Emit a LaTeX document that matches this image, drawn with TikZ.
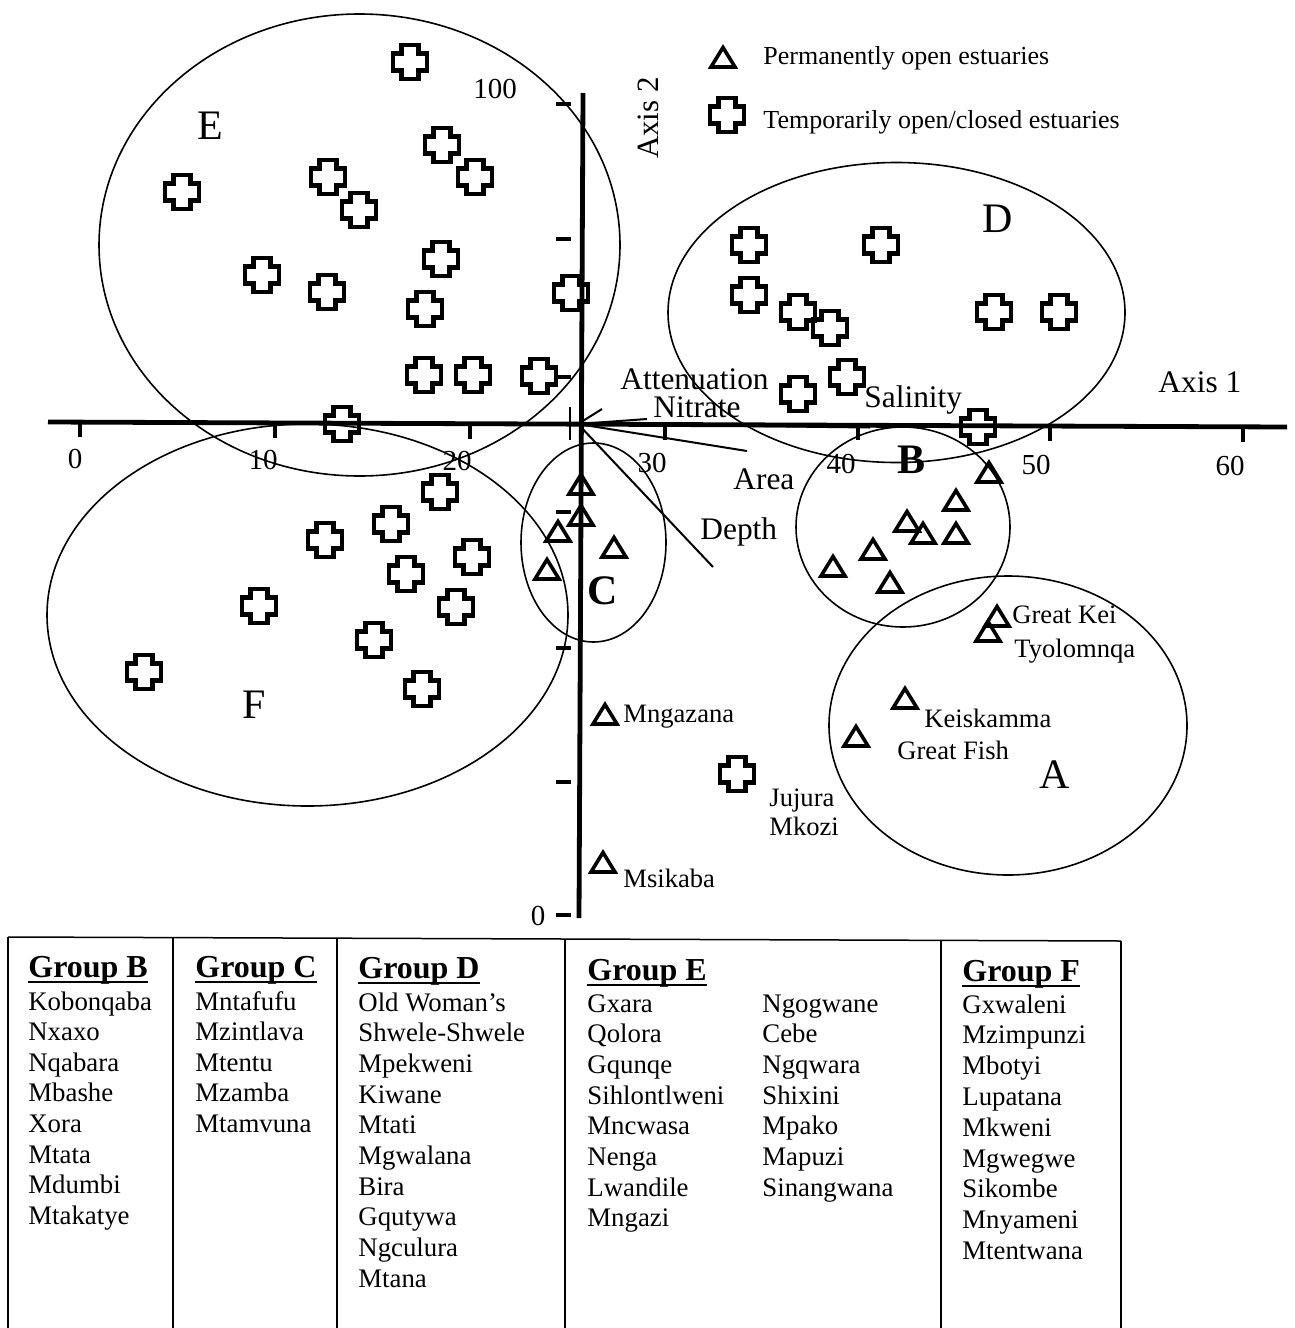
\documentclass[tikz,border=0pt]{standalone}
\usepackage{fontspec}
\setmainfont{Liberation Serif}
\begin{document}
\begin{tikzpicture}[x=0.5pt,y=-0.5pt]
\tikzset{
 axisline/.style={line width=2.4pt},
 tickmark/.style={line width=1.6pt},
 ytick/.style={line width=2pt},
 grp/.style={line width=0.8pt},
 vec/.style={line width=1pt},
 lbl/.style={inner sep=0pt, font=\fontsize{13.3}{15}\selectfont, anchor=base west},
 veclbl/.style={inner sep=0pt, font=\fontsize{15.7}{18}\selectfont, anchor=base west},
 num/.style={inner sep=0pt, font=\fontsize{14.5}{17}\selectfont, anchor=base},
 big/.style={inner sep=0pt, font=\fontsize{21}{24}\selectfont},
 bigb/.style={inner sep=0pt, font=\fontsize{21}{24}\selectfont\bfseries},
 cell/.style={inner sep=0pt, font=\fontsize{13.4}{16}\selectfont, anchor=base west},
 hdr/.style={inner sep=0pt, font=\fontsize{16}{19}\selectfont\bfseries, anchor=base west},
 leg/.style={inner sep=0pt, font=\fontsize{13}{15}\selectfont, anchor=base west},
 tbl/.style={line width=0.75pt},
 plusmark/.pic={\draw[line width=2.1pt,line join=miter]
   (-8.5,-17)--(8.5,-17)--(8.5,-8.5)--(17,-8.5)--(17,8.5)--(8.5,8.5)--(8.5,17)
   --(-8.5,17)--(-8.5,8.5)--(-17,8.5)--(-17,-8.5)--(-8.5,-8.5)--cycle;},
 trimark/.pic={\draw[line width=1.8pt,line join=miter] (-12,9)--(12,9)--(0,-10.5)--cycle;},
}
\useasboundingbox (0,0) rectangle (1295,1328);

% ---- axes ----
\coordinate (xL) at (48,422);
\coordinate (xR) at (1287,427);
\coordinate (yT) at (583,93);
\coordinate (yB) at (579,918);
\draw[axisline] (xL) -- (xR);
\draw[axisline] (yT) -- (yB);

% x ticks
\foreach \xx/\yy [count=\i] in {80/422.1,275/422.9,470/423.7,665/424.5,858/425.3,1050/426,1243/426.8}{
  \coordinate (xt\i) at (\xx,\yy);
  \coordinate (xtb\i) at (\xx,\yy+15);
  \draw[tickmark] (xt\i) -- (xtb\i);
}
\coordinate (ot1) at (570,407);
\coordinate (ot2) at (570,440);
\draw[line width=1pt] (ot1) -- (ot2);

% y ticks
\foreach \yy [count=\i] in {104,239,377,512,648,782,915}{
  \coordinate (yta\i) at (556,\yy);
  \coordinate (ytb\i) at (571,\yy);
  \draw[ytick] (yta\i) -- (ytb\i);
}

% axis numbers
\node[num] (n0) at (75,468) {0};
\node[num] (n10) at (263,469) {10};
\node[num] (n20) at (457,470) {20};
\node[num] (n30) at (652,472) {30};
\node[num] (n40) at (841,473) {40};
\node[num] (n50) at (1036,474) {50};
\node[num] (n60) at (1230,475) {60};
\node[num] (n100) at (495,98) {100};
\node[num] (ny0) at (538,925) {0};
\node[inner sep=0pt, font=\fontsize{15.5}{18}\selectfont, rotate=90] (ax2) at (648,118) {Axis 2};
\node[veclbl] (ax1) at (1158,392) {Axis 1};

% ---- vectors ----
\coordinate (O) at (578,424);
\coordinate (vAtt) at (602,409);
\coordinate (vNit) at (647,419);
\coordinate (vSal) at (870,427.5);
\coordinate (vArea) at (747,451);
\coordinate (vDep) at (713,567);
\draw[vec] (O) -- (vAtt);
\draw[vec] (O) -- (vNit);
\draw[vec] (O) -- (vSal);
\draw[vec] (O) -- (vArea);
\draw[vec] (O) -- (vDep);
\node[veclbl] (lAtt) at (620,389) {Attenuation};
\node[veclbl] (lNit) at (653,417) {Nitrate};
\node[veclbl] (lSal) at (864,407) {Salinity};
\node[veclbl] (lArea) at (733,489) {Area};
\node[veclbl] (lDep) at (700,539) {Depth};

% ---- group ellipses ----
\draw[grp] (359.5,245) ellipse [x radius=130.25pt, y radius=115.5pt];
\draw[grp] (896.5,312.5) ellipse [x radius=114.25pt, y radius=75pt];
\draw[grp] (307.5,615) ellipse [x radius=130.25pt, y radius=95.5pt];
\draw[grp] (593.5,542.5) ellipse [x radius=36.25pt, y radius=49.75pt];
\draw[grp] (903,527) ellipse [x radius=53.5pt, y radius=50pt];
\draw[grp] (1008,725.5) ellipse [x radius=89.5pt, y radius=74.75pt];

\node[big] (gE) at (210,126) {E};
\node[big] (gD) at (998,219) {D};
\node[big] (gF) at (254,705) {F};
\node[big] (gA) at (1055,775) {A};
\node[bigb] (gB) at (911,460) {B};
\node[bigb] (gC) at (603,591) {C};

% ---- crosses (temporarily open/closed) ----
\foreach \xx/\yy [count=\i] in {410/62,442/145,475/177,328/177,359/210,182/192,441/259,262/275,327/292,425/309,571/293,424/375,473/375,539/376,342/424,
  749/245,881/245,749/295,798/312,830/328,994/312,1059/312,847/377,798/394,978/427,
  440/492,391/524,325/540,472/557,406/574,259/606,456/607,374/640,144/672,422/689,
  737/774}{
  \pic (cr\i) at (\xx,\yy) {plusmark};
}

% ---- triangles (permanently open) ----
\foreach \xx/\yy [count=\i] in {581/485,581/516,558/532,547/570,614/548,
  989/473,956/501,907/522,923/534,956/534,873/550,833/567,890/583,
  997/617,988/632,905/699,856/737,605/715,603/863}{
  \pic (tr\i) at (\xx,\yy) {trimark};
}

% point labels
\node[lbl] (lKei) at (1012,623) {Great Kei};
\node[lbl] (lTyo) at (1014,657) {Tyolomnqa};
\node[lbl] (lKeis) at (924,727) {Keiskamma};
\node[lbl] (lFish) at (897,759) {Great Fish};
\node[lbl] (lMng) at (623,722) {Mngazana};
\node[lbl] (lJuj) at (769,806) {Jujura};
\node[lbl] (lMko) at (769,835) {Mkozi};
\node[lbl] (lMsi) at (623,887) {Msikaba};

% ---- legend ----
\pic (legtri) at (723,58) {trimark};
\pic (legcr) at (727,115) {plusmark};
\node[leg] (leg1) at (763,64) {Permanently open estuaries};
\node[leg] (leg2) at (763,128) {Temporarily open/closed estuaries};

% ---- table ----
\coordinate (tTL) at (8,937);
\coordinate (tTR) at (1121,941);
\draw[tbl] (tTL) -- (tTR);
\foreach \xx [count=\i] in {8,173,337,565,941,1121}{
  \coordinate (tv\i) at (\xx,{937+(\xx-8)*4/1113});
  \coordinate (tw\i) at (\xx,1328);
  \draw[tbl] (tv\i) -- (tw\i);
}

\node[hdr] (hB) at (28,977) {Group B};
\node[hdr] (hC) at (195,977) {Group C};
\node[hdr] (hD) at (358,978) {Group D};
\node[hdr] (hE) at (587,980) {Group E};
\node[hdr] (hF) at (962,981) {Group F};
\foreach \h in {hB,hC,hD,hE,hF}{
  \draw[line width=0.9pt] ([yshift=-2.6pt]\h.base west) -- ([yshift=-2.6pt]\h.base east);
}

\foreach \t [count=\i] in {Kobonqaba,Nxaxo,Nqabara,Mbashe,Xora,Mtata,Mdumbi,Mtakatye}{
  \node[cell] (b\i) at (28,{1010+(\i-1)*30.6}) {\t};
}
\foreach \t [count=\i] in {Mntafufu,Mzintlava,Mtentu,Mzamba,Mtamvuna}{
  \node[cell] (c\i) at (195,{1010+(\i-1)*30.6}) {\t};
}
\foreach \t [count=\i] in {Old Woman’s,Shwele-Shwele,Mpekweni,Kiwane,Mtati,Mgwalana,Bira,Gqutywa,Ngculura,Mtana}{
  \node[cell] (d\i) at (358,{1011+(\i-1)*30.7}) {\t};
}
\foreach \t [count=\i] in {Gxara,Qolora,Gqunqe,Sihlontlweni,Mncwasa,Nenga,Lwandile,Mngazi}{
  \node[cell] (e\i) at (587,{1012+(\i-1)*30.7}) {\t};
}
\foreach \t [count=\i] in {Ngogwane,Cebe,Ngqwara,Shixini,Mpako,Mapuzi,Sinangwana}{
  \node[cell] (ee\i) at (762,{1012+(\i-1)*30.7}) {\t};
}
\foreach \t [count=\i] in {Gxwaleni,Mzimpunzi,Mbotyi,Lupatana,Mkweni,Mgwegwe,Sikombe,Mnyameni,Mtentwana}{
  \node[cell] (f\i) at (962,{1013+(\i-1)*30.8}) {\t};
}
\end{tikzpicture}
\end{document}
